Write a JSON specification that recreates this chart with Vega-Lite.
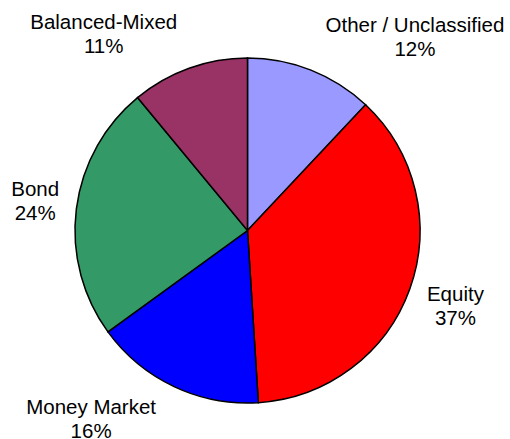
{
  "$schema": "https://vega.github.io/schema/vega-lite/v6.json",
  "autosize": {"type": "none"},
  "padding": {"left": 0, "top": 22, "right": 15, "bottom": 0},
  "width": 495,
  "height": 417,
  "background": "white",
  "view": {"stroke": null},
  "data": {
    "values": [
      {"category": "Other / Unclassified", "share": 12, "pct": "12%", "i": 1},
      {"category": "Equity", "share": 37, "pct": "37%", "i": 2},
      {"category": "Money Market", "share": 16, "pct": "16%", "i": 3},
      {"category": "Bond", "share": 24, "pct": "24%", "i": 4},
      {"category": "Balanced-Mixed", "share": 11, "pct": "11%", "i": 5}
    ]
  },
  "transform": [{"calculate": "[datum.category, datum.pct]", "as": "label"}],
  "encoding": {
    "theta": {"field": "share", "type": "quantitative", "stack": true},
    "order": {"field": "i", "type": "quantitative"}
  },
  "layer": [
    {
      "mark": {"type": "arc", "radius": 172.5, "stroke": "black", "strokeWidth": 1.5},
      "encoding": {
        "color": {
          "field": "category",
          "type": "nominal",
          "scale": {
            "domain": ["Other / Unclassified", "Equity", "Money Market", "Bond", "Balanced-Mixed"],
            "range": ["#9999FF", "#FF0000", "#0000FF", "#339966", "#993366"]
          },
          "legend": null
        }
      }
    },
    {
      "mark": {"type": "text", "radius": 243, "dx": 78, "dy": 21, "font": "Liberation Sans", "fontSize": 20.5, "lineHeight": 24, "baseline": "middle", "align": "center", "color": "black"},
      "encoding": {"text": {"condition": {"test": "datum.category === 'Other / Unclassified'", "field": "label"}, "value": ""}}
    },
    {
      "mark": {"type": "text", "radius": 221, "dx": 0, "dy": -10, "font": "Liberation Sans", "fontSize": 20.5, "lineHeight": 24, "baseline": "middle", "align": "center", "color": "black"},
      "encoding": {"text": {"condition": {"test": "datum.category === 'Equity'", "field": "label"}, "value": ""}}
    },
    {
      "mark": {"type": "text", "radius": 237, "dx": -55.5, "dy": -36.5, "font": "Liberation Sans", "fontSize": 20.5, "lineHeight": 24, "baseline": "middle", "align": "center", "color": "black"},
      "encoding": {"text": {"condition": {"test": "datum.category === 'Money Market'", "field": "label"}, "value": ""}}
    },
    {
      "mark": {"type": "text", "radius": 214, "dx": 0, "dy": -14, "font": "Liberation Sans", "fontSize": 20.5, "lineHeight": 24, "baseline": "middle", "align": "center", "color": "black"},
      "encoding": {"text": {"condition": {"test": "datum.category === 'Bond'", "field": "label"}, "value": ""}}
    },
    {
      "mark": {"type": "text", "radius": 234, "dx": -64.5, "dy": 12.5, "font": "Liberation Sans", "fontSize": 20.5, "lineHeight": 24, "baseline": "middle", "align": "center", "color": "black"},
      "encoding": {"text": {"condition": {"test": "datum.category === 'Balanced-Mixed'", "field": "label"}, "value": ""}}
    }
  ]
}
